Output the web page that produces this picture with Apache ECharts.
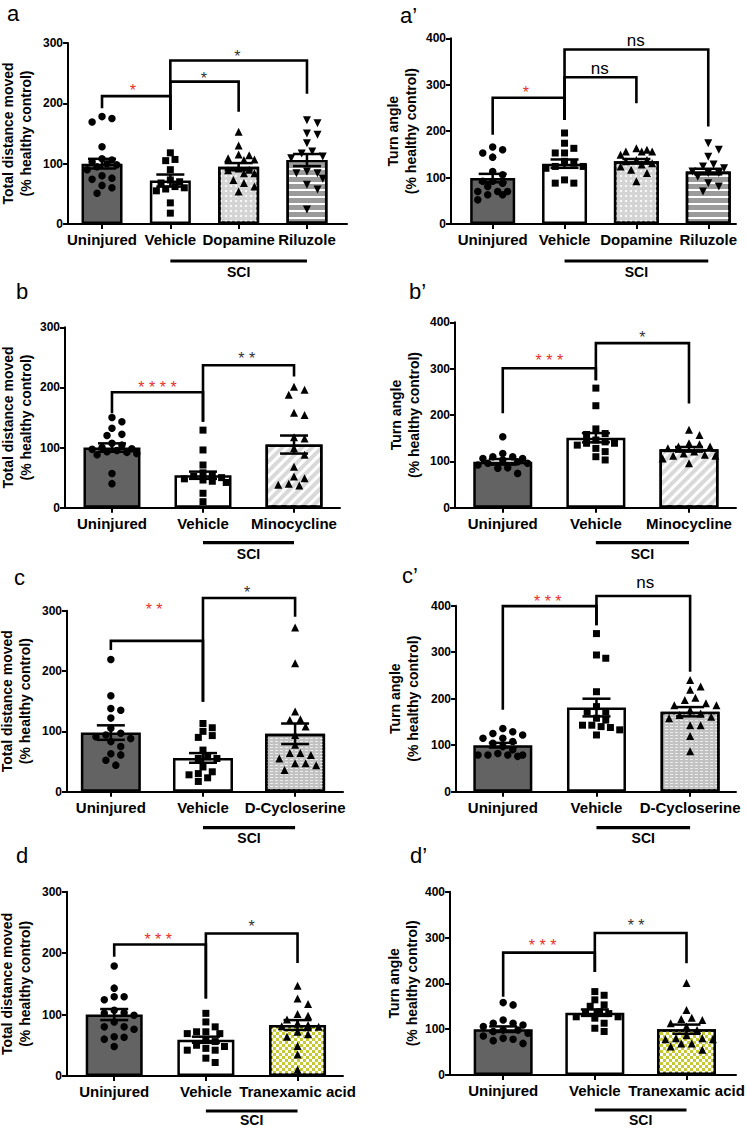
<!DOCTYPE html>
<html><head><meta charset="utf-8">
<script src="https://cdn.jsdelivr.net/npm/echarts@6/dist/echarts.min.js"></script>
<style>html,body{margin:0;padding:0;background:#fff}#c{width:747px;height:1129px}</style>
</head><body><div id="c"></div>
<script>
// ---------- data ----------
const catsA = ['Uninjured', 'Vehicle', 'Dopamine', 'Riluzole'];
const catsB = ['Uninjured', 'Vehicle', 'Minocycline'];
const catsC = ['Uninjured', 'Vehicle', 'D-Cycloserine'];
const catsD = ['Uninjured', 'Vehicle', 'Tranexamic acid'];
const nameDist = 'Total distance moved\n(% healthy control)';
const nameTurn = 'Turn angle\n(% healthy control)';
const ticksDist = [0, 100, 200, 300];
const ticksTurn = [0, 100, 200, 300, 400];

// panel a : total distance
const meanA = [100, 72, 95, 106];
const semA = [8, 10, 6, 10];
const ptsA = [
  [178, 175, 169, 128, 108, 106, 103, 100, 98, 95, 90, 80, 76, 74, 64, 60, 51],
  [118, 107, 105, 90, 73, 70, 68, 62, 60, 58, 55, 35, 18],
  [153, 130, 115, 114, 109, 107, 106, 92, 90, 89, 84, 84, 73, 68, 62, 54],
  [172, 167, 150, 148, 134, 120, 117, 112, 109, 87, 84, 84, 75, 65, 57, 24]
];
const brA = [[0, 1, 212, 192, 156], [1, 2, 236, 156, 186], [1, 3, 271, 156, 216]];
const sigA = [['*', 0.45, 228, 'r'], ['*', 1.49, 248, 'k'], ['*', 1.98, 285, 'k']];

// panel a' : turn angle
const meanA2 = [99, 130, 135, 113];
const semA2 = [9, 9, 5, 6];
const ptsA2 = [
  [166, 160, 153, 144, 113, 106, 92, 92, 88, 81, 70, 70, 70, 63, 63, 52],
  [196, 174, 163, 153, 153, 135, 131, 124, 124, 120, 95, 88, 88],
  [163, 160, 156, 156, 156, 149, 138, 138, 135, 131, 128, 124, 117, 110, 92],
  [174, 160, 145, 128, 124, 120, 113, 110, 110, 102, 88, 81, 70]
];
const brA2 = [[0, 1, 272, 192, 224], [1, 2, 316, 224, 260], [1, 3, 376, 224, 210]];
const sigA2 = [['*', 0.46, 292, 'r'], ['ns', 1.49, 335, 'k'], ['ns', 1.99, 396, 'k']];

// panel b
const meanB = [100, 54, 105];
const semB = [7, 6, 15];
const ptsB = [
  [150, 143, 132, 122, 120, 107, 104, 100, 98, 97, 95, 93, 92, 90, 88, 57, 40],
  [129, 96, 71, 58, 54, 52, 50, 48, 46, 44, 42, 24, 10],
  [201, 196, 188, 158, 154, 117, 115, 99, 88, 68, 52, 49, 40, 38, 37]
];
const brB = [[0, 1, 192, 157, 143], [1, 2, 237, 143, 218]];
const sigB = [['****', 0.5, 207, 'r'], ['**', 1.48, 254, 'k']];

// panel b'
const meanB2 = [99, 151, 126];
const semB2 = [6, 10, 5];
const ptsB2 = [
  [153, 117, 110, 110, 106, 106, 103, 99, 96, 96, 92, 86, 85, 74],
  [258, 220, 170, 160, 158, 146, 142, 139, 139, 135, 128, 121, 110, 103],
  [168, 157, 139, 137, 132, 132, 128, 121, 117, 114, 112, 112, 106, 96]
];
const brB2 = [[0, 1, 301, 204, 275], [1, 2, 355, 275, 225]];
const sigB2 = [['***', 0.5, 326, 'r'], ['*', 1.5, 376, 'k']];

// panel c
const meanC = [98, 56, 96];
const semC = [12, 8, 17];
const ptsC = [
  [219, 159, 138, 135, 122, 105, 97, 94, 91, 88, 83, 75, 63, 61, 52, 44],
  [113, 106, 100, 93, 90, 69, 58, 55, 55, 41, 33, 30, 28, 23, 17],
  [272, 213, 133, 120, 119, 108, 94, 78, 64, 64, 61, 55, 47, 47, 44, 36]
];
const brC = [[0, 1, 250, 235, 149], [1, 2, 321, 149, 290]];
const sigC = [['**', 0.47, 308, 'r'], ['*', 1.48, 337, 'k']];

// panel c'
const meanC2 = [100, 181, 172];
const semC2 = [5, 19, 10];
const ptsC2 = [
  [136, 129, 125, 122, 115, 115, 108, 104, 97, 90, 82, 79, 79, 79, 79, 76],
  [340, 294, 287, 215, 183, 172, 172, 158, 154, 143, 143, 140, 138, 133, 122],
  [240, 226, 219, 202, 197, 190, 186, 186, 175, 168, 165, 161, 158, 143, 143, 120, 87]
];
const brC2 = [[0, 1, 399, 176, 358], [1, 2, 421, 358, 258]];
const sigC2 = [['***', 0.48, 417, 'r'], ['ns', 1.52, 450, 'k']];

// panel d
const meanD = [100, 59, 83];
const semD = [9, 5, 8];
const ptsD = [
  [179, 143, 129, 129, 124, 107, 103, 102, 99, 88, 80, 80, 76, 64, 63, 60, 48],
  [102, 88, 80, 72, 72, 69, 69, 59, 56, 50, 48, 45, 42, 42, 29, 22],
  [147, 126, 117, 101, 98, 92, 86, 83, 81, 80, 72, 68, 64, 49, 35, 10]
];
const brD = [[0, 1, 214, 194, 126], [1, 2, 232, 126, 184]];
const sigD = [['***', 0.48, 229, 'r'], ['*', 1.5, 250, 'k']];

// panel d'
const meanD2 = [100, 136, 100];
const semD2 = [6, 7, 10];
const ptsD2 = [
  [158, 153, 120, 113, 113, 109, 106, 98, 98, 95, 91, 85, 80, 78, 75, 69],
  [182, 174, 164, 153, 150, 138, 135, 134, 127, 127, 124, 113, 102, 95],
  [201, 142, 125, 122, 120, 113, 106, 98, 87, 80, 80, 78, 78, 69, 69, 62, 55]
];
const brD2 = [[0, 1, 267, 171, 225], [1, 2, 310, 225, 244]];
const sigD2 = [['***', 0.43, 291, 'r'], ['**', 1.45, 335, 'k']];

// ---------- layout (pixels) ----------
const layA  = {L: 68,  R: 347, T: 43,    B: 224,    xmin: -0.498, xmax: 3.586, bw: 41, gap: 33, lx: 7,   ly: 13,  sl: 37, st: 11};
const layA2 = {L: 451, R: 736, T: 38.3,  B: 224,    xmin: -0.58,  xmax: 3.386, bw: 45, gap: 31, lx: 400, ly: 15,  sl: 37, st: 11};
const layB  = {L: 65,  R: 340, T: 327.3, B: 507.7,  xmin: -0.516, xmax: 2.505, bw: 57, gap: 30, lx: 16,  ly: 291, sl: 35, st: 11};
const layB2 = {L: 455, R: 736, T: 322.3, B: 507.7,  xmin: -0.513, xmax: 2.505, bw: 59, gap: 32, lx: 409, ly: 291, sl: 35, st: 11};
const layC  = {L: 67,  R: 343, T: 610.7, B: 791.7,  xmin: -0.476, xmax: 2.52,  bw: 60, gap: 33, lx: 14,  ly: 577, sl: 36, st: 10};
const layC2 = {L: 456, R: 736, T: 605.7, B: 791.7,  xmin: -0.50,  xmax: 2.49,  bw: 59, gap: 34, lx: 402, ly: 575, sl: 36, st: 10};
const layD  = {L: 67,  R: 343, T: 891.7, B: 1076,   xmin: -0.515, xmax: 2.496, bw: 57, gap: 33, lx: 16,  ly: 855, sl: 35, st: 9};
const layD2 = {L: 450, R: 736, T: 891.7, B: 1075,   xmin: -0.58,  xmax: 2.54,  bw: 59, gap: 27, lx: 410, ly: 855, sl: 35, st: 10};

const FONT = '"Liberation Sans", Arial, Helvetica, sans-serif';
const RED = '#e8302c', DARK = '#333333';

const fills = {
  'Uninjured': {color: '#636363'},
  'Vehicle': {color: '#ffffff'},
  'Dopamine': {color: '#d4d4d4', decal: {symbol: 'circle', symbolSize: 1, color: '#ffffff', dashArrayX: [1.4, 2.2], dashArrayY: [1.4, 2.2]}},
  'Riluzole': {color: '#9b9b9b', decal: {symbol: 'rect', symbolSize: 1, color: '#ffffff', dashArrayX: [1, 0], dashArrayY: [1.5, 4.5]}},
  'Minocycline': {color: '#d9d9d9', decal: {symbol: 'rect', symbolSize: 1, color: '#ffffff', dashArrayX: [1, 0], dashArrayY: [3, 4], rotation: -Math.PI / 4}},
  'D-Cycloserine': {color: '#c2c2c2', decal: {symbol: 'rect', symbolSize: 1, color: '#ececec', dashArrayX: [2.5, 1.2], dashArrayY: [1, 1.3]}},
  'Tranexamic acid': {color: '#c6c932', decal: {symbol: 'rect', symbolSize: 1, color: '#ffffff', dashArrayX: [[3, 3], [0, 3, 3, 0]], dashArrayY: [3, 0]}}
};
const marks = {
  'Uninjured': {symbol: 'circle', size: 7.5, rot: 0},
  'Vehicle': {symbol: 'rect', size: 7, rot: 0},
  'Dopamine': {symbol: 'triangle', size: 8, rot: 0},
  'Riluzole': {symbol: 'triangle', size: 8, rot: 180},
  'Minocycline': {symbol: 'triangle', size: 8, rot: 0},
  'D-Cycloserine': {symbol: 'triangle', size: 8, rot: 0},
  'Tranexamic acid': {symbol: 'triangle', size: 8, rot: 0}
};

const panels = [
  {cats: catsA,  mean: meanA,  sem: semA,  pts: ptsA,  br: brA,  sig: sigA,  name: nameDist, ticks: ticksDist, lay: layA,  letter: 'a'},
  {cats: catsA,  mean: meanA2, sem: semA2, pts: ptsA2, br: brA2, sig: sigA2, name: nameTurn, ticks: ticksTurn, lay: layA2, letter: 'a\u2019'},
  {cats: catsB,  mean: meanB,  sem: semB,  pts: ptsB,  br: brB,  sig: sigB,  name: nameDist, ticks: ticksDist, lay: layB,  letter: 'b'},
  {cats: catsB,  mean: meanB2, sem: semB2, pts: ptsB2, br: brB2, sig: sigB2, name: nameTurn, ticks: ticksTurn, lay: layB2, letter: 'b\u2019'},
  {cats: catsC,  mean: meanC,  sem: semC,  pts: ptsC,  br: brC,  sig: sigC,  name: nameDist, ticks: ticksDist, lay: layC,  letter: 'c'},
  {cats: catsC,  mean: meanC2, sem: semC2, pts: ptsC2, br: brC2, sig: sigC2, name: nameTurn, ticks: ticksTurn, lay: layC2, letter: 'c\u2019'},
  {cats: catsD,  mean: meanD,  sem: semD,  pts: ptsD,  br: brD,  sig: sigD,  name: nameDist, ticks: ticksDist, lay: layD,  letter: 'd'},
  {cats: catsD,  mean: meanD2, sem: semD2, pts: ptsD2, br: brD2, sig: sigD2, name: nameTurn, ticks: ticksTurn, lay: layD2, letter: 'd\u2019'}
];

// simple deterministic beeswarm: spread overlapping points sideways (pixel space)
function swarm(vals, idx, lay, ymax, diam) {
  const kx = (lay.R - lay.L) / (lay.xmax - lay.xmin);
  const ky = (lay.B - lay.T) / ymax;
  const maxOff = lay.bw / 2 - 3;
  const placed = [];
  return vals.map(function (v) {
    const py = v * ky;
    let best = 0, bestD = -1;
    for (let k = 0; k < 40; k++) {
      const off = Math.ceil(k / 2) * diam * 0.62 * (k % 2 ? 1 : -1);
      if (Math.abs(off) > maxOff) continue;
      let dmin = Infinity;
      placed.forEach(function (p) { dmin = Math.min(dmin, Math.hypot(p[0] - off, p[1] - py)); });
      if (dmin >= diam) { best = off; bestD = Infinity; break; }
      if (dmin > bestD) { bestD = dmin; best = off; }
    }
    placed.push([best, py]);
    return [idx + best / kx, v];
  });
}

const option = {animation: false, backgroundColor: '#ffffff', grid: [], xAxis: [], yAxis: [], series: [], graphic: []};

panels.forEach(function (p, g) {
  const lay = p.lay, n = p.cats.length, ymax = p.ticks[p.ticks.length - 1];
  option.grid.push({left: lay.L, top: lay.T, width: lay.R - lay.L, height: lay.B - lay.T, containLabel: false, outerBoundsMode: 'none'});
  const idxs = p.cats.map(function (c, i) { return i; });
  option.xAxis.push({
    type: 'value', gridIndex: g, min: lay.xmin, max: lay.xmax,
    axisLine: {show: true, onZero: false, lineStyle: {color: '#000', width: 2}},
    axisTick: {show: true, customValues: idxs, length: 5, lineStyle: {color: '#000', width: 2}},
    axisLabel: {show: true, customValues: idxs, margin: 8, color: '#000', fontWeight: 'bold', fontSize: 15, fontFamily: FONT,
      formatter: function (v) { return p.cats[Math.round(v)]; }},
    splitLine: {show: false}
  });
  option.yAxis.push({
    type: 'value', gridIndex: g, min: 0, max: ymax, interval: 100,
    name: p.name, nameLocation: 'middle', nameGap: lay.gap, nameRotate: 90,
    nameTextStyle: {color: '#000', fontWeight: 'bold', fontSize: 14, fontFamily: FONT, lineHeight: 18},
    axisLine: {show: true, onZero: false, lineStyle: {color: '#000', width: 2}},
    axisTick: {show: true, length: 5, lineStyle: {color: '#000', width: 2}},
    axisLabel: {margin: 5, color: '#000', fontWeight: 'bold', fontSize: 12, fontFamily: FONT},
    splitLine: {show: false}
  });
  // bars
  option.series.push({
    type: 'bar', xAxisIndex: g, yAxisIndex: g, barWidth: lay.bw, z: 2, silent: true,
    data: p.cats.map(function (c, i) {
      return {value: [i, p.mean[i]], itemStyle: Object.assign({borderColor: '#000', borderWidth: 2.5}, fills[c])};
    })
  });
  // individual points
  p.cats.forEach(function (c, i) {
    const m = marks[c];
    option.series.push({
      type: 'scatter', xAxisIndex: g, yAxisIndex: g, z: 3, silent: true,
      symbol: m.symbol, symbolSize: m.size, symbolRotate: m.rot,
      itemStyle: {color: '#000', opacity: 1},
      data: swarm(p.pts[i], i, lay, ymax, m.size + 0.5)
    });
  });
  // SEM error bars
  option.series.push({
    type: 'custom', xAxisIndex: g, yAxisIndex: g, z: 4, silent: true,
    data: p.cats.map(function (c, i) { return [i, p.mean[i], p.sem[i]]; }),
    renderItem: function (params, api) {
      const x = api.value(0), m = api.value(1), s = api.value(2);
      const t = api.coord([x, m + s]), b = api.coord([x, m - s]);
      const hw = 14, st = {stroke: '#000', lineWidth: 2.5};
      return {type: 'group', children: [
        {type: 'line', shape: {x1: t[0], y1: t[1], x2: b[0], y2: b[1]}, style: st},
        {type: 'line', shape: {x1: t[0] - hw, y1: t[1], x2: t[0] + hw, y2: t[1]}, style: st},
        {type: 'line', shape: {x1: b[0] - hw, y1: b[1], x2: b[0] + hw, y2: b[1]}, style: st}
      ]};
    }
  });
  // significance brackets
  option.series.push({
    type: 'custom', xAxisIndex: g, yAxisIndex: g, z: 5, silent: true, clip: false,
    data: p.br,
    renderItem: function (params, api) {
      const x1 = api.value(0), x2 = api.value(1), y = api.value(2), yl = api.value(3), yr = api.value(4);
      return {type: 'polyline', shape: {points: [api.coord([x1, yl]), api.coord([x1, y]), api.coord([x2, y]), api.coord([x2, yr])]},
        style: {stroke: '#000', lineWidth: 2.6, fill: null, lineJoin: 'miter'}};
    }
  });
  // significance labels
  option.series.push({
    type: 'custom', xAxisIndex: g, yAxisIndex: g, z: 6, silent: true, clip: false,
    data: p.sig.map(function (s) { return [s[1], s[2]]; }),
    renderItem: function (params, api) {
      const s = p.sig[params.dataIndex];
      const pt = api.coord([api.value(0), api.value(1)]);
      const isNs = s[0] === 'ns';
      const txt = isNs ? s[0] : s[0].split('').join(' ');
      return {type: 'text', x: pt[0], y: pt[1] + (isNs ? 0 : 4), style: {
        text: txt, fill: s[3] === 'r' ? RED : (isNs ? '#000' : DARK),
        font: (isNs ? '17px ' : '16px ') + FONT,
        align: 'center', verticalAlign: 'middle', textAlign: 'center', textVerticalAlign: 'middle'}};
    }
  });
  // SCI group line
  option.series.push({
    type: 'custom', xAxisIndex: g, yAxisIndex: g, z: 6, silent: true, clip: false,
    data: [[1, n - 1]],
    renderItem: function (params, api) {
      const a = api.coord([api.value(0), 0]), b = api.coord([api.value(1), 0]);
      const y = a[1] + lay.sl;
      return {type: 'group', children: [
        {type: 'line', shape: {x1: a[0], y1: y, x2: b[0], y2: y}, style: {stroke: '#000', lineWidth: 3.2}},
        {type: 'text', x: (a[0] + b[0]) / 2, y: y + lay.st, style: {text: 'SCI', fill: '#000', font: 'bold 14px ' + FONT,
          align: 'center', verticalAlign: 'middle', textAlign: 'center', textVerticalAlign: 'middle'}}
      ]};
    }
  });
  // panel letter
  option.graphic.push({type: 'text', x: lay.lx, y: lay.ly, silent: true, style: {
    text: p.letter, fill: '#000', font: '22px ' + FONT, align: 'left', verticalAlign: 'middle', textAlign: 'left', textVerticalAlign: 'middle'}});
});

const chart = echarts.init(document.getElementById('c'), null, {renderer: 'svg', width: 747, height: 1129});
chart.setOption(option);
</script>
</body></html>
